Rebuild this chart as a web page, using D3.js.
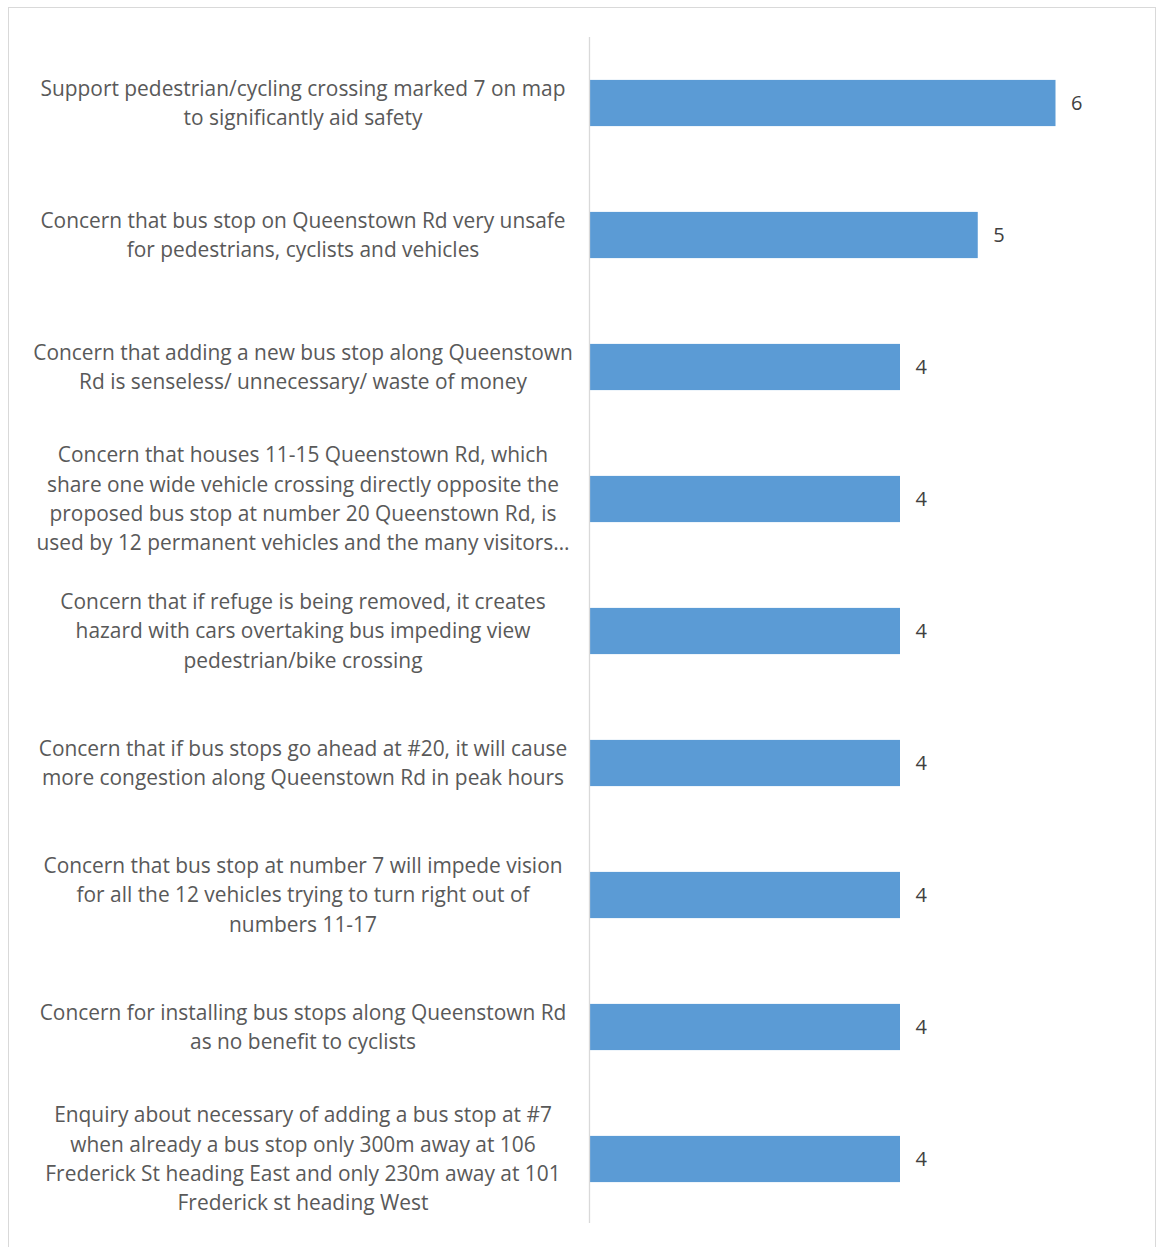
<!DOCTYPE html>
<html>
<head>
<meta charset="utf-8">
<script src="https://cdn.jsdelivr.net/npm/d3@7"></script>
<style>
  html, body { margin: 0; padding: 0; background: #fff; }
  svg { display: block; }
</style>
</head>
<body>
<svg id="chart" width="1156" height="1247"></svg>
<script>
const categories = [
  ["Support pedestrian/cycling crossing marked 7 on map", "to significantly aid safety"],
  ["Concern that bus stop on Queenstown Rd very unsafe", "for pedestrians, cyclists and vehicles"],
  ["Concern that adding a new bus stop along Queenstown", "Rd is senseless/ unnecessary/ waste of money"],
  ["Concern that houses 11-15 Queenstown Rd, which", "share one wide vehicle crossing directly opposite the", "proposed bus stop at number 20 Queenstown Rd, is", "used by 12 permanent vehicles and the many visitors…"],
  ["Concern that if refuge is being removed, it creates", "hazard with cars overtaking bus impeding view", "pedestrian/bike crossing"],
  ["Concern that if bus stops go ahead at #20, it will cause", "more congestion along Queenstown Rd in peak hours"],
  ["Concern that bus stop at number 7 will impede vision", "for all the 12 vehicles trying to turn right out of", "numbers 11-17"],
  ["Concern for installing bus stops along Queenstown Rd", "as no benefit to cyclists"],
  ["Enquiry about necessary of adding a bus stop at #7", "when already a bus stop only 300m away at 106", "Frederick St heading East and only 230m away at 101", "Frederick st heading West"]
];
const values = [6, 5, 4, 4, 4, 4, 4, 4, 4];

const svg = d3.select("#chart");
const W = 1156, H = 1247;

// outer border
svg.append("rect")
  .attr("x", 8.5).attr("y", 7.5)
  .attr("width", W - 9).attr("height", H)
  .attr("fill", "#fff").attr("stroke", "#d9d9d9").attr("stroke-width", 1);

const x0 = 589, plotTop = 37, plotBottom = 1225;
const x = d3.scaleLinear().domain([0, 6]).range([x0, 1055.5]);
const y = d3.scaleBand().domain(d3.range(categories.length)).range([plotTop, plotBottom]).paddingInner(0.65).paddingOuter(0.325);

// bars
svg.append("g").selectAll("rect").data(values).join("rect")
  .attr("x", x(0))
  .attr("y", (d, i) => y(i))
  .attr("width", d => x(d) - x(0))
  .attr("height", y.bandwidth())
  .attr("fill", "#5b9bd5");

// axis line
svg.append("line")
  .attr("x1", x0 + 0.5).attr("x2", x0 + 0.5)
  .attr("y1", plotTop).attr("y2", plotBottom - 2)
  .attr("stroke", "#d9d9d9").attr("stroke-width", 1.3);

const font = "'Open Sans', 'Noto Sans', sans-serif";

// value labels
svg.append("g").selectAll("text").data(values).join("text")
  .attr("x", d => x(d) + 15.5)
  .attr("y", (d, i) => y(i) + y.bandwidth() / 2)
  .attr("dy", "0.35em")
  .attr("font-family", font)
  .attr("font-size", 20)
  .attr("fill", "#404040")
  .text(d => d);

// category labels
const lineH = 29.3;
const labels = svg.append("g").selectAll("text").data(categories).join("text")
  .attr("font-family", font)
  .attr("font-size", 20.9)
  .attr("fill", "#595959")
  .attr("text-anchor", "middle");
labels.each(function(lines, i) {
  const cy = y(i) + y.bandwidth() / 2;
  const start = cy - (lines.length - 1) * lineH / 2;
  d3.select(this).selectAll("tspan").data(lines).join("tspan")
    .attr("x", 303)
    .attr("y", (d, j) => start + j * lineH)
    .attr("dy", "0.35em")
    .text(d => d);
});
</script>
</body>
</html>
